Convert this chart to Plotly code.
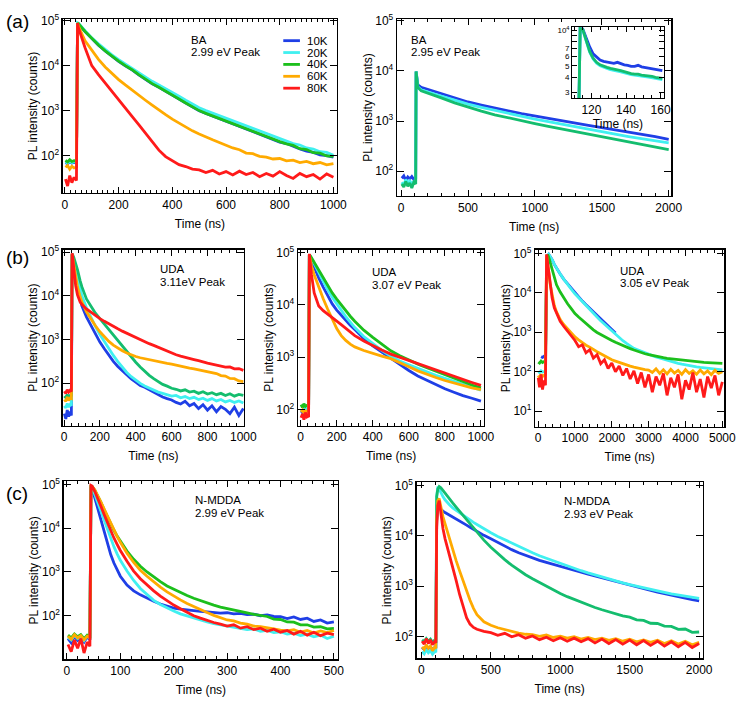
import plotly.graph_objects as go

W, H = 752, 704
FONT = "Liberation Sans, Arial, Helvetica, sans-serif"

BLUE = "#1f3fe6"
CYAN = "#40f0f0"
GREEN = "#1cbf1c"
SEAGREEN = "#14bd6e"
ORANGE = "#ffaa00"
RED = "#ff1a1a"

LEGEND_LABELS = ["10K", "20K", "40K", "60K", "80K"]
Y_TICKS = [10, 100, 1000, 10000, 100000]
Y_TICKTEXT = ["10<sup>1</sup>", "10<sup>2</sup>", "10<sup>3</sup>", "10<sup>4</sup>", "10<sup>5</sup>"]

# ---------------- (a) left : BA 2.99 eV ----------------
T_A1 = [2, 10, 18, 26, 34, 43, 47, 50, 75, 100, 125, 150, 175, 200, 225, 250, 275, 300, 325, 350,
        375, 400, 425, 450, 475, 500, 525, 550, 575, 600, 625, 650, 675, 700, 725, 750, 775, 800,
        825, 850, 875, 900, 925, 950, 975, 1000]
A1_10K = [70, 66, 74, 68, 71, 70, 88000, 85000, 57000, 39500, 28600, 21200, 16000, 12500, 9900, 8050,
          6250, 4880, 3960, 3300, 2740, 2230, 1810, 1470, 1195, 995, 865, 755, 655, 585, 505, 445, 385,
          336, 292, 255, 226, 200, 185, 160, 140, 125, 118, 104, 100, 92]
A1_20K = [72, 68, 76, 70, 73, 72, 90000, 88000, 60000, 41500, 30500, 22800, 17400, 13600, 10900, 8900,
          7000, 5500, 4480, 3720, 3100, 2540, 2080, 1700, 1390, 1160, 1000, 880, 770, 680, 595, 520, 455,
          398, 350, 305, 268, 238, 212, 185, 172, 148, 140, 122, 118, 102]
A1_40K = [78, 72, 81, 74, 77, 76, 89000, 86000, 57500, 39800, 28800, 21400, 16200, 12600, 10000, 8130,
          6310, 4900, 3980, 3310, 2750, 2240, 1820, 1480, 1200, 1000, 870, 760, 660, 590, 510, 447, 389,
          339, 295, 257, 229, 204, 182, 168, 142, 136, 116, 113, 98, 96]
A1_60K = [55, 60, 50, 58, 53, 56, 89000, 76000, 35500, 21400, 13800, 9330, 6610, 4900, 3720, 2820,
          2190, 1700, 1320, 1020, 813, 646, 525, 427, 355, 302, 257, 224, 195, 170, 148, 135, 114, 110,
          96, 92, 84, 86, 76, 79, 70, 74, 66, 70, 62, 66]
A1_80K = [30, 21, 36, 25, 33, 28, 89000, 70800, 25100, 10000, 6310, 4070, 2630, 1700, 1120, 741, 490,
          316, 200, 132, 95, 76, 63, 57, 50, 48, 42, 47, 39, 44, 37, 45, 38, 42, 34, 40, 35, 44, 36, 31,
          40, 34, 38, 30, 39, 33]

# ---------------- (a) right : BA 2.95 eV ----------------
T_A2 = [5, 20, 35, 50, 65, 80, 95, 109, 112, 118, 125, 150, 200, 250, 300, 400, 500, 600, 700, 800,
        900, 1000, 1100, 1200, 1300, 1400, 1500, 1600, 1700, 1800, 1900, 2000]
A2_10K = [72, 80, 65, 76, 70, 78, 68, 72, 9800, 7200, 5300, 4700, 4250, 3900, 3550, 2900, 2400, 2080,
          1800, 1590, 1400, 1250, 1120, 1010, 900, 815, 740, 670, 605, 545, 485, 430]
A2_20K = [60, 52, 68, 58, 64, 55, 62, 60, 9800, 6800, 4800, 4200, 3750, 3450, 3150, 2600, 2180, 1870,
          1620, 1420, 1240, 1090, 970, 860, 760, 680, 610, 545, 490, 440, 400, 365]
A2_40K = [55, 48, 62, 50, 58, 46, 60, 55, 9800, 6600, 4700, 4000, 3550, 3200, 2900, 2300, 1880, 1570,
          1330, 1150, 1010, 890, 780, 690, 610, 540, 480, 425, 380, 340, 300, 268]

# inset of (a) right
INSET_T = [112.8, 113.5, 115, 117, 119, 121, 123, 125, 127, 129, 131, 133, 135, 137, 139, 141, 143,
           145, 147, 149, 151, 153, 155, 157, 159, 161]
INSET_10K = [2500, 10300, 10200, 8500, 7200, 6300, 5900, 5600, 5450, 5400, 5300, 5250, 5350, 5200,
             5100, 5050, 4950, 4950, 5050, 4900, 4850, 4800, 4750, 4700, 4600, 4550]
INSET_20K = [2500, 10300, 10000, 7900, 6500, 5700, 5250, 5000, 4850, 4750, 4650, 4550, 4500, 4450,
             4350, 4300, 4220, 4170, 4150, 4100, 4050, 4020, 3980, 3900, 3850, 3830]
INSET_40K = [2500, 10300, 10100, 8000, 6600, 5800, 5350, 5100, 4950, 4850, 4750, 4650, 4620, 4550,
             4450, 4380, 4300, 4250, 4250, 4180, 4150, 4120, 4080, 4000, 3950, 3920]
INSET_YTICKS = [3000, 4000, 5000, 6000, 7000, 8000, 9000, 10000]
INSET_YTEXT = ["3", "4", "5", "6", "7", "", "", "10<sup>4</sup>"]

# ---------------- (b) left : UDA 3.11 eV ----------------
T_B1 = [2, 10, 18, 26, 34, 41, 45, 48, 55, 65, 75, 90, 100, 125, 150, 175, 200, 225, 250, 275, 300,
        325, 350, 375, 400, 425, 450, 475, 500, 525, 550, 575, 600, 625, 650, 675, 700, 725, 750, 775,
        800, 825, 850, 875, 900, 925, 950, 975, 1000]
B1_10K = [20, 15, 24, 17, 22, 18, 88000, 70000, 42000, 24000, 15000, 8000, 5800, 3300, 2080, 1350, 870,
          610, 435, 315, 240, 190, 150, 125, 105, 88, 80, 70, 62, 56, 48, 44, 41, 36, 33, 38, 30, 34,
          26, 32, 24, 30, 22, 29, 25, 20, 28, 18, 26]
B1_20K = [30, 27, 34, 28, 32, 30, 90000, 80000, 55000, 36000, 25000, 14000, 10000, 5300, 3200, 2000,
          1300, 880, 610, 430, 310, 230, 175, 140, 115, 98, 86, 76, 68, 62, 58, 54, 50, 52, 46, 49, 44,
          47, 42, 45, 40, 44, 39, 42, 37, 40, 36, 39, 35]
B1_40K = [50, 46, 54, 48, 52, 50, 90000, 88000, 75000, 58000, 40000, 22000, 16000, 8500, 5600, 4000,
          3000, 2240, 1660, 1260, 930, 690, 525, 400, 300, 234, 186, 150, 126, 107, 93, 85, 76, 72, 66,
          70, 62, 65, 58, 63, 56, 60, 54, 58, 52, 57, 50, 55, 52]
B1_60K = [42, 38, 48, 40, 45, 44, 90000, 75000, 45000, 25000, 16000, 9500, 7200, 4300, 2900, 2050,
          1500, 1150, 900, 740, 630, 550, 490, 440, 405, 380, 360, 340, 320, 305, 290, 282, 270, 255,
          245, 232, 220, 212, 200, 192, 183, 168, 165, 148, 145, 128, 126, 112, 108]
B1_80K = [65, 58, 70, 62, 68, 64, 95000, 80000, 40000, 17000, 10500, 7200, 6300, 5000, 4200, 3500,
          3000, 2600, 2250, 1950, 1750, 1550, 1380, 1220, 1090, 980, 880, 800, 730, 660, 590, 530, 475,
          445, 415, 395, 370, 345, 325, 300, 285, 270, 258, 252, 232, 235, 212, 215, 195]

# ---------------- (b) middle : UDA 3.07 eV ----------------
T_B2 = [2, 10, 18, 26, 34, 44, 48, 52, 60, 75, 100, 125, 150, 175, 200, 225, 250, 275, 300, 350, 400,
        450, 500, 550, 600, 650, 700, 750, 800, 850, 900, 950, 1000]
B2_10K = [95, 88, 102, 90, 98, 95, 90000, 86000, 72000, 52000, 33000, 22000, 15000, 10500, 8000, 6300,
          5000, 4100, 3400, 2300, 1650, 1250, 950, 720, 560, 440, 360, 300, 250, 215, 185, 165, 145]
B2_20K = [100, 92, 108, 96, 104, 100, 90000, 87000, 78000, 62000, 42000, 28000, 19500, 14000, 10400,
          7800, 6000, 4700, 3700, 2500, 1800, 1350, 1050, 850, 720, 610, 520, 450, 395, 345, 300, 265,
          235]
B2_40K = [125, 110, 130, 115, 120, 118, 90000, 88000, 80000, 65000, 46000, 32000, 23000, 17000, 13000,
          10000, 7800, 6100, 4900, 3300, 2400, 1750, 1330, 1070, 880, 740, 630, 540, 460, 395, 340, 295,
          260]
B2_60K = [90, 98, 85, 95, 92, 92, 90000, 75000, 56000, 38000, 22000, 13200, 8300, 5250, 3550, 2600,
          2100, 1780, 1580, 1350, 1170, 1050, 940, 800, 660, 550, 470, 410, 360, 320, 285, 260, 240]
B2_80K = [70, 82, 64, 88, 72, 75, 95000, 70000, 38000, 17000, 9600, 7800, 6600, 5700, 4900, 4200, 3600,
          3000, 2600, 2050, 1660, 1380, 1150, 1000, 880, 770, 670, 570, 490, 430, 380, 330, 290]

# ---------------- (b) right : UDA 3.05 eV ----------------
T_B3 = [5, 40, 80, 120, 160, 200, 230, 260, 290, 330, 380, 440, 500, 600, 700, 800, 900, 1000, 1100,
        1200, 1300, 1400, 1500, 1600, 1700, 1800, 1900, 2000, 2100, 2200, 2300, 2400, 2500, 2600, 2700,
        2800, 2900, 3000, 3100, 3200, 3300, 3400, 3500, 3600, 3700, 3800, 3900, 4000, 4100, 4200, 4300,
        4400, 4500, 4600, 4700, 4800, 4900, 5000]
B3_10K = [None, None, 240, 230, 245, 240, 30000, 85000, 95000, 85000, 70000, 53000, 42000, 30000, 22000,
          17000, 12700, 9700, 7700, 6200, 5000, 4050, 3250, 2650, 2150, 1780, 1460, 1200, 960,
          None, None, None, None, None, None, None, None, None, None, None, None, None, None, None,
          None, None, None, None, None, None, None, None, None, None, None, None, None, None]
B3_20K = [100, 95, 105, 98, 100, 100, 30000, 85000, 95000, 85000, 70000, 53000, 42000, 30000, 22000,
          17000, 12500, 9500, 7500, 6000, 4800, 3850, 3050, 2450, 1950, 1600, 1300, 1070, 880, 730, 610,
          520, 445, 390, 360, 328, 300, 275, 255, 238, 222, 205, 192, 180, 170, 162, 155, 148, 143, 138,
          133, 129, 125, 122, 119, 116, 113, 111]
B3_40K = [175, 165, 185, 170, 180, 180, 60000, 95000, 80000, 60000, 40000, 25000, 16000, 10500, 7200,
          5300, 4000, 3000, 2450, 2000, 1650, 1350, 1150, 990, 870, 770, 690, 620, 560, 505, 460, 420,
          385, 355, 325, 305, 285, 270, 256, 245, 235, 226, 218, 212, 205, 200, 195, 190, 186, 182, 178,
          175, 172, 170, 167, 165, 163, 162]
B3_60K = [80, 70, 85, 75, 80, 85, 90000, 60000, 32000, 16000, 8500, 4800, 3300, 2100, 1550, 1200, 950,
          760, 640, 540, 470, 420, 360, 320, 285, 250, 225, 200, 185, 170, 160, 145, 138, 130, 122, 118,
          112, 110, 95, 118, 90, 112, 88, 115, 92, 108, 85, 112, 90, 105, 86, 110, 88, 104, 84, 108, 90,
          100]
B3_80K = [70, 40, 85, 35, 60, 45, 95000, 55000, 28000, 14000, 7500, 4200, 3000, 1900, 1400, 1050, 820,
          620, 430, 480, 300, 360, 220, 270, 160, 200, 120, 165, 100, 140, 80, 120, 65, 105, 50, 95, 40,
          85, 30, 75, 45, 90, 25, 70, 40, 85, 20, 60, 35, 95, 30, 65, 22, 75, 38, 80, 25, 55]

# ---------------- (c) left : N-MDDA 2.99 eV ----------------
T_C1 = [2, 8, 14, 20, 26, 32, 38, 43, 45, 47, 52, 58, 64, 70, 76, 82, 88, 94, 100, 112.5, 125, 137.5,
        150, 162.5, 175, 187.5, 200, 212.5, 225, 237.5, 250, 262.5, 275, 287.5, 300, 312.5, 325, 337.5,
        350, 362.5, 375, 387.5, 400, 412.5, 425, 437.5, 450, 462.5, 475, 487.5, 500]
C1_10K = [30, 24, 34, 27, 31, 25, 33, 28, 90000, 85000, 50000, 27000, 14000, 7500, 4200, 2500, 1600,
          1100, 800, 500, 370, 300, 250, 215, 185, 165, 150, 142, 135, 130, 126, 122, 118, 115, 117, 110,
          113, 106, 108, 100, 104, 96, 95, 86, 94, 82, 88, 74, 80, 68, 72]
C1_20K = [32, 28, 36, 30, 34, 27, 35, 30, 90000, 88000, 60000, 38000, 23000, 14000, 8800, 5600, 3800,
          2600, 1850, 1050, 640, 420, 300, 225, 180, 150, 128, 110, 98, 88, 80, 72, 66, 62, 58, 55, 52,
          48, 50, 44, 46, 41, 43, 38, 40, 35, 38, 33, 36, 30, 34]
C1_40K = [36, 31, 38, 33, 37, 30, 36, 34, 90000, 90000, 75000, 55000, 38000, 26000, 18000, 12500, 9000,
          6600, 5000, 3000, 1950, 1350, 1000, 760, 600, 480, 400, 340, 290, 250, 220, 195, 175, 158, 145,
          135, 124, 116, 108, 100, 96, 84, 82, 72, 71, 62, 62, 55, 56, 50, 51]
C1_60K = [34, 29, 37, 31, 35, 28, 34, 32, 90000, 90000, 76000, 56000, 39000, 27000, 18500, 12800, 9000,
          6500, 4800, 2700, 1650, 1100, 800, 590, 450, 350, 280, 230, 190, 160, 136, 118, 102, 92, 80,
          76, 68, 64, 58, 56, 52, 50, 47, 45, 48, 42, 46, 40, 45, 41, 46]
C1_80K = [22, 15, 28, 18, 30, 14, 25, 20, 95000, 92000, 70000, 48000, 31000, 20000, 13000, 8500, 6000,
          4300, 3100, 1750, 1050, 700, 500, 370, 280, 220, 175, 145, 118, 100, 88, 78, 70, 64, 58, 62,
          52, 56, 48, 52, 44, 49, 42, 46, 38, 44, 36, 42, 35, 40, 37]

# ---------------- (c) right : N-MDDA 2.93 eV ----------------
T_C2 = [5, 20, 35, 50, 65, 80, 95, 104, 110, 118, 128, 140, 155, 170, 185, 200, 225, 250, 275, 300, 325,
        350, 375, 400, 450, 500, 550, 600, 650, 700, 750, 800, 850, 900, 950, 1000, 1050, 1100, 1150,
        1200, 1250, 1300, 1350, 1400, 1450, 1500, 1550, 1600, 1650, 1700, 1750, 1800, 1850, 1900, 1950,
        2000]
C2_10K = [60, 55, 64, 57, 62, 54, 60, 58, 20000, 33000, 36000, 33000, 31000, 29000, 27500, 26000, 24000,
          22000, 20000, 18000, 16300, 14800, 13400, 12200, 10200, 8700, 7400, 6100, 5300, 4600, 4050,
          3600, 3250, 2950, 2680, 2440, 2220, 2030, 1880, 1720, 1580, 1450, 1330, 1230, 1130, 1040, 960,
          890, 820, 760, 710, 660, 610, 570, 540, 510]
C2_20K = [50, 45, 55, 47, 52, 44, 50, 48, 60000, 95000, 85000, 72000, 60000, 52000, 46000, 42000, 36000,
          32000, 28500, 25500, 23000, 20500, 18500, 16800, 13800, 11500, 9700, 8300, 7100, 6100, 5300,
          4600, 4000, 3550, 3150, 2800, 2500, 2250, 2020, 1830, 1660, 1510, 1380, 1260, 1160, 1070, 990,
          920, 860, 800, 750, 700, 660, 625, 595, 570]
C2_40K = [85, 78, 90, 80, 88, 76, 84, 82, 60000, 85000, 95000, 90000, 80000, 70000, 62000, 55000, 45000,
          37000, 30500, 25000, 20500, 17000, 14200, 12000, 8200, 5900, 4400, 3350, 2600, 2050, 1680,
          1400, 1170, 980, 830, 710, 615, 540, 475, 420, 375, 338, 305, 280, 255, 240, 212, 208, 182,
          180, 160, 158, 138, 140, 120, 122]
C2_60K = [62, 55, 68, 58, 64, 52, 60, 58, 20000, 50000, 55000, 36000, 24000, 17500, 12500, 9000, 5200,
          3200, 2000, 1250, 800, 520, 360, 270, 195, 166, 148, 135, 124, 116, 110, 108, 100, 106, 95,
          101, 92, 98, 88, 95, 86, 92, 83, 90, 80, 88, 78, 85, 76, 84, 72, 82, 70, 80, 68, 76]
C2_80K = [80, 70, 90, 72, 85, 68, 78, 75, 15000, 40000, 50000, 26000, 14000, 8800, 6200, 4600, 2500,
          1300, 680, 380, 235, 175, 150, 138, 125, 118, 105, 115, 98, 108, 92, 102, 86, 96, 82, 94, 80,
          92, 78, 90, 74, 88, 72, 86, 70, 84, 68, 82, 66, 80, 64, 78, 62, 76, 60, 72]

fig = go.Figure()


def dom_x(a, b):
    return [a / W, b / W]


def dom_y(top, bottom):
    return [1 - bottom / H, 1 - top / H]


# panel geometry (pixel boxes), axis ranges and tick spacing
panels = [
    dict(t=T_A1, ys=[A1_10K, A1_20K, A1_40K, A1_60K, A1_80K], green=GREEN,
         box=(62, 342, 12, 188), xr=[-8, 1014], yr=[1.165, 5.04], dt=200, mdt=20),
    dict(t=T_A2, ys=[A2_10K, A2_20K, A2_40K], colors=[BLUE, CYAN, SEAGREEN],
         box=(403, 683, 12, 191), xr=[-31, 2020], yr=[1.5, 5.04], dt=500, mdt=100),
    dict(t=T_B1, ys=[B1_10K, B1_20K, B1_40K, B1_60K, B1_80K], green=SEAGREEN,
         box=(62, 247, 245, 423), xr=[-7, 1004], yr=[1.02, 5.06], dt=200, mdt=40),
    dict(t=T_B2, ys=[B2_10K, B2_20K, B2_40K, B2_60K, B2_80K], green=GREEN,
         box=(302, 492, 245, 423), xr=[-15, 1018], yr=[1.69, 5.06], dt=200, mdt=40),
    dict(t=T_B3, ys=[B3_10K, B3_20K, B3_40K, B3_60K, B3_80K], green=GREEN,
         box=(544, 737, 245, 424), xr=[-80, 5053], yr=[0.6, 5.1], dt=1000, mdt=200),
    dict(t=T_C1, ys=[C1_10K, C1_20K, C1_40K, C1_60K, C1_80K], green=GREEN,
         box=(63, 343, 479, 659), xr=[-6, 508], yr=[1.0, 5.075], dt=100, mdt=20),
    dict(t=T_C2, ys=[C2_10K, C2_20K, C2_40K, C2_60K, C2_80K], green=SEAGREEN,
         box=(423, 715, 480, 658), xr=[-35, 2026], yr=[1.56, 5.065], dt=500, mdt=100),
]

axis_common = dict(
    showline=True, linecolor="black", linewidth=1.3, mirror="allticks",
    ticks="inside", tickcolor="black", tickwidth=1, showgrid=False, zeroline=False,
    tickfont=dict(family=FONT, size=12, color="black"),
)
TITLE_FONT = dict(family=FONT, size=12, color="black")

layout_axes = {}
for i, p in enumerate(panels, start=1):
    cols = p.get("colors", [BLUE, CYAN, p.get("green", GREEN), ORANGE, RED])
    for y, c, name in zip(p["ys"], cols, LEGEND_LABELS):
        fig.add_trace(go.Scatter(
            x=p["t"], y=y, mode="lines", name=name, showlegend=False,
            line=dict(color=c, width=2.8), xaxis=f"x{i}", yaxis=f"y{i}",
            connectgaps=False, hoverinfo="skip"))
    x0, x1, y0, y1 = p["box"]
    lo, hi = p["yr"]
    tv = [v for v, tt in zip(Y_TICKS, Y_TICKTEXT) if lo + 0.06 < len(str(v)) - 1 <= hi]
    tt = [tt for v, tt in zip(Y_TICKS, Y_TICKTEXT) if lo + 0.06 < len(str(v)) - 1 <= hi]
    layout_axes[f"xaxis{i}"] = dict(
        axis_common, domain=dom_x(x0, x1), range=p["xr"], anchor=f"y{i}",
        tick0=0, dtick=p["dt"], ticklen=6,
        minor=dict(dtick=p["mdt"], tick0=0, ticks="inside", ticklen=3, tickcolor="black"),
        title=dict(text="Time (ns)", standoff=8, font=TITLE_FONT))
    layout_axes[f"yaxis{i}"] = dict(
        axis_common, type="log", domain=dom_y(y0, y1), range=p["yr"], anchor=f"x{i}",
        tickmode="array", tickvals=tv, ticktext=tt, ticklen=7,
        title=dict(text="PL intensity (counts)", standoff=0, font=TITLE_FONT))

# inset in (a) right
for y, c, name in zip([INSET_10K, INSET_20K, INSET_40K], [BLUE, CYAN, SEAGREEN], LEGEND_LABELS):
    fig.add_trace(go.Scatter(x=INSET_T, y=y, mode="lines", name=name, showlegend=False,
                             line=dict(color=c, width=2.8), xaxis="x8", yaxis="y8",
                             hoverinfo="skip"))
layout_axes["xaxis8"] = dict(
    axis_common, domain=dom_x(582, 675), range=[109, 161.7], anchor="y8",
    tick0=0, dtick=20, ticklen=5,
    minor=dict(dtick=5, ticks="inside", ticklen=3, tickcolor="black"),
    title=dict(text="Time (ns)", standoff=2, font=TITLE_FONT))
layout_axes["yaxis8"] = dict(
    axis_common, type="log", domain=dom_y(20, 92), range=[3.427, 4.0275], anchor="x8",
    tickmode="array", tickvals=INSET_YTICKS, ticktext=INSET_YTEXT, ticklen=5,
    tickfont=dict(family=FONT, size=8, color="black"))

annotations = []


def txt(x, y, s, size=11.5, xanchor="left"):
    annotations.append(dict(x=x / W, y=1 - y / H, xref="paper", yref="paper", text=s,
                            showarrow=False, xanchor=xanchor, yanchor="middle",
                            font=dict(family=FONT, size=size, color="black")))


# sample / peak labels
txt(191, 33, "BA")
txt(191, 45, "2.99 eV Peak")
txt(415, 33, "BA")
txt(415, 45, "2.95 eV Peak")
txt(159, 265, "UDA")
txt(159, 278, "3.11eV Peak")
txt(375, 268, "UDA")
txt(375, 281, "3.07 eV Peak")
txt(629, 267, "UDA")
txt(629, 279, "3.05 eV Peak")
txt(195, 498, "N-MDDA")
txt(195, 511, "2.99 eV Peak")
txt(571, 499, "N-MDDA")
txt(571, 512, "2.93 eV Peak")

# panel letters
txt(2, 15, "(a)", size=19)
txt(2, 253, "(b)", size=19)
txt(2, 491, "(c)", size=19)

# legend of (a) left
shapes = []
leg_cols = [BLUE, CYAN, GREEN, ORANGE, RED]
for k, (lab, c) in enumerate(zip(LEGEND_LABELS, leg_cols)):
    yy = 34 + 12 * k
    shapes.append(dict(type="line", xref="paper", yref="paper", x0=287 / W, x1=304 / W,
                       y0=1 - yy / H, y1=1 - yy / H, line=dict(color=c, width=2.8)))
    txt(309, yy, lab, size=11.5)

fig.update_layout(
    width=W, height=H, margin=dict(l=0, r=0, t=0, b=0),
    paper_bgcolor="white", plot_bgcolor="white", showlegend=False,
    font=dict(family=FONT, size=12, color="black"),
    annotations=annotations, shapes=shapes, **layout_axes)

# remove the browser's default 8px page margin so the figure sits at the window origin
fig.write_html("out.html", config={"displayModeBar": False, "staticPlot": True},
               post_script="document.body.style.margin='0px';document.body.style.overflow='hidden';")
